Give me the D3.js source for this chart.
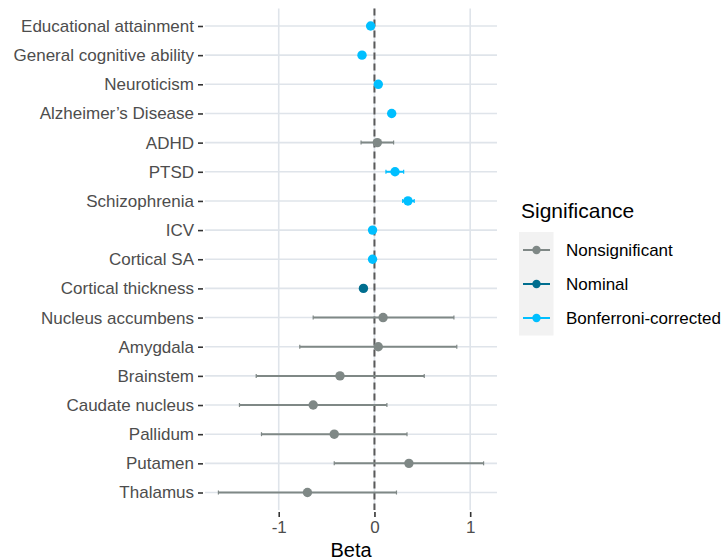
<!DOCTYPE html>
<html>
<head>
    <meta charset="utf-8">
    <title>Beta forest plot</title>
    <script src="https://cdnjs.cloudflare.com/ajax/libs/d3/7.8.5/d3.min.js"></script>
    <style>
        body { margin: 0; background: #fff; }
        text { font-family: "Liberation Sans", Arial, sans-serif; }
    </style>
</head>
<body>
    <div id="chart"></div>

    <script>
        // Data, top row first
        const traits = ['Educational attainment', 'General cognitive ability', 'Neuroticism',
            "Alzheimer\u2019s Disease", 'ADHD', 'PTSD', 'Schizophrenia', 'ICV', 'Cortical SA',
            'Cortical thickness', 'Nucleus accumbens', 'Amygdala', 'Brainstem',
            'Caudate nucleus', 'Pallidum', 'Putamen', 'Thalamus'];
        const beta  = [-0.04, -0.13, 0.04, 0.18, 0.03, 0.215, 0.35, -0.02, -0.02,
            -0.115, 0.09, 0.04, -0.36, -0.64, -0.42, 0.36, -0.70];
        const lower = [-0.06, -0.15, 0.02, 0.16, -0.14, 0.12, 0.295, -0.04, -0.04,
            -0.135, -0.64, -0.78, -1.235, -1.41, -1.18, -0.42, -1.63];
        const upper = [-0.02, -0.11, 0.06, 0.20, 0.20, 0.305, 0.415, 0.00, 0.00,
            -0.095, 0.83, 0.86, 0.52, 0.13, 0.34, 1.14, 0.23];
        const significance = ['Bonferroni-corrected', 'Bonferroni-corrected', 'Bonferroni-corrected',
            'Bonferroni-corrected', 'Nonsignificant', 'Bonferroni-corrected', 'Bonferroni-corrected',
            'Bonferroni-corrected', 'Bonferroni-corrected', 'Nominal', 'Nonsignificant',
            'Nonsignificant', 'Nonsignificant', 'Nonsignificant', 'Nonsignificant',
            'Nonsignificant', 'Nonsignificant'];
        const levels = ['Nonsignificant', 'Nominal', 'Bonferroni-corrected'];
        const xTicks = [-1, 0, 1];

        const data = traits.map((t, i) => ({
            trait: t, beta: beta[i], lo: lower[i], hi: upper[i], sig: significance[i]
        }));

        const width = 728;
        const height = 560;
        const margin = {top: 8.5, right: 231, bottom: 50, left: 205};

        const svg = d3.select('#chart')
            .append('svg')
            .attr('width', width)
            .attr('height', height);

        const x = d3.scaleLinear()
            .domain([-1.77, 1.28])
            .range([margin.left, width - margin.right]);

        const y = d3.scalePoint()
            .domain(traits)
            .range([margin.top, height - margin.bottom])
            .padding(0.6);

        const color = d3.scaleOrdinal()
            .domain(levels)
            .range(['#7f8886', '#006e8f', '#00bfff']);

        // Grid
        const grid = svg.append('g');
        grid.selectAll('.hgrid')
            .data(traits)
            .join('line')
            .attr('x1', margin.left)
            .attr('x2', width - margin.right)
            .attr('y1', d => y(d))
            .attr('y2', d => y(d))
            .attr('stroke', '#dfe4ea')
            .attr('stroke-width', 1.6);
        grid.selectAll('.vgrid')
            .data(xTicks)
            .join('line')
            .attr('x1', d => x(d))
            .attr('x2', d => x(d))
            .attr('y1', margin.top)
            .attr('y2', height - margin.bottom)
            .attr('stroke', '#dfe4ea')
            .attr('stroke-width', 1.6);

        // Zero reference line
        svg.append('line')
            .attr('x1', x(0))
            .attr('x2', x(0))
            .attr('y1', margin.top)
            .attr('y2', height - margin.bottom)
            .attr('stroke', '#5a5a5a')
            .attr('stroke-width', 2)
            .attr('stroke-dasharray', '7,4');

        // Error bars
        svg.selectAll('.ci')
            .data(data)
            .join('line')
            .attr('x1', d => x(d.lo))
            .attr('x2', d => x(d.hi))
            .attr('y1', d => y(d.trait))
            .attr('y2', d => y(d.trait))
            .attr('stroke', d => color(d.sig))
            .attr('stroke-width', 2);
        svg.selectAll('.cap')
            .data(data.flatMap(d => [[d.lo, d], [d.hi, d]]))
            .join('line')
            .attr('x1', d => x(d[0]))
            .attr('x2', d => x(d[0]))
            .attr('y1', d => y(d[1].trait) - 2)
            .attr('y2', d => y(d[1].trait) + 2)
            .attr('stroke', d => color(d[1].sig))
            .attr('stroke-width', 1.2);

        // Points
        svg.selectAll('.pt')
            .data(data)
            .join('circle')
            .attr('cx', d => x(d.beta))
            .attr('cy', d => y(d.trait))
            .attr('r', 4.7)
            .attr('fill', d => color(d.sig));

        // Axes
        const yAxis = svg.append('g')
            .attr('transform', `translate(${margin.left - 2},0)`)
            .call(d3.axisLeft(y).tickSize(5).tickPadding(4));
        yAxis.select('.domain').remove();
        yAxis.selectAll('line').attr('stroke', '#333').attr('stroke-width', 1.6);
        yAxis.selectAll('text').attr('fill', '#4d4d4d').style('font-size', '17px');

        const xAxis = svg.append('g')
            .attr('transform', `translate(0,${height - margin.bottom + 2})`)
            .call(d3.axisBottom(x).tickValues(xTicks).tickSize(5).tickPadding(4)
                .tickFormat(d => String(d)));
        xAxis.select('.domain').remove();
        xAxis.selectAll('line').attr('stroke', '#333').attr('stroke-width', 1.6);
        xAxis.selectAll('text').attr('fill', '#4d4d4d').style('font-size', '17px');

        svg.append('text')
            .attr('x', (margin.left + width - margin.right) / 2)
            .attr('y', 557)
            .attr('text-anchor', 'middle')
            .style('font-size', '20px')
            .attr('fill', '#000')
            .text('Beta');

        // Legend
        const legend = svg.append('g').attr('transform', 'translate(520,0)');
        legend.append('text')
            .attr('x', 1)
            .attr('y', 218)
            .style('font-size', '21px')
            .text('Significance');
        legend.append('rect')
            .attr('x', -1)
            .attr('y', 232)
            .attr('width', 34.5)
            .attr('height', 103.5)
            .attr('fill', '#f2f2f2');
        const keys = legend.selectAll('.key')
            .data(levels)
            .join('g')
            .attr('transform', (d, i) => `translate(0,${250 + i * 34})`);
        keys.append('line')
            .attr('x1', 3)
            .attr('x2', 30)
            .attr('stroke', d => color(d))
            .attr('stroke-width', 2);
        keys.append('circle')
            .attr('cx', 16.5)
            .attr('r', 4.2)
            .attr('fill', d => color(d));
        keys.append('text')
            .attr('x', 46)
            .attr('dy', '0.35em')
            .style('font-size', '17px')
            .attr('fill', '#000')
            .text(d => d);
    </script>
</body>
</html>
